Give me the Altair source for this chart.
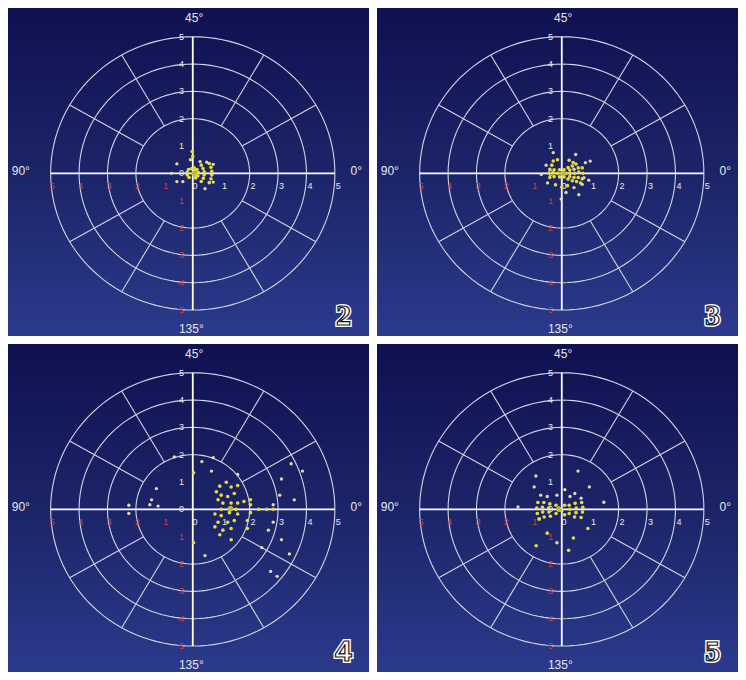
import altair as alt
import pandas as pd
import numpy as np

# ---------------- data ----------------
panel_names = ["2", "3", "4", "5"]
panel_fonts = ["Liberation Serif", "Liberation Serif", "Liberation Sans", "Liberation Serif"]

# panel "2"
p2_x = [0.03, 0.08, 0.10, 0.05, 0.15, 0.20, 0.18, 0.10, -0.05, -0.15, -0.20, -0.19, -0.13,
        0.30, 0.36, 0.40, 0.40, 0.37, 0.30, 0.58, 0.64, 0.67, 0.67, 0.64, 0.58,
        -0.08, 0.00, -0.02]
p2_y = [0.02, 0.10, -0.08, 0.20, 0.14, 0.03, -0.09, -0.17, 0.17, 0.14, 0.04, -0.06, -0.15,
        0.30, 0.18, 0.06, -0.06, -0.18, -0.30, 0.36, 0.22, 0.08, -0.06, -0.20, -0.34,
        0.50, 0.62, 0.80]
p2_px = [-0.56, 0.26, 0.49, 0.72, -0.56, -0.35, 0.43, 0.72, -0.75]
p2_py = [0.35, 0.43, 0.41, 0.33, -0.30, -0.30, -0.56, -0.32, 0.00]

# panel "3"
p3_x = [0.15, 0.08, -0.08, -0.15, -0.08, 0.08,
        0.30, 0.28, 0.22, 0.28, 0.22, -0.30, -0.27, -0.27,
        0.45, 0.43, 0.37, 0.43, 0.37, -0.42, -0.45, -0.42, -0.35,
        0.60, 0.58, 0.50, 0.58, 0.52, 0.75, 0.72, 0.72, 0.66,
        -0.30, -0.15, 0.26, 0.40, -0.22, 0.00, 0.20]
p3_y = [0.00, 0.13, 0.13, 0.00, -0.13, -0.13,
        0.00, 0.12, 0.21, -0.12, -0.21, 0.02, 0.13, -0.12,
        0.00, 0.15, 0.27, -0.15, -0.27, 0.15, 0.00, -0.15, 0.30,
        0.05, 0.20, 0.34, -0.15, -0.30, 0.00, 0.20, -0.20, -0.35,
        0.45, 0.50, 0.48, 0.40, -0.42, -0.50, -0.45]
p3_px = [0.49, 0.83, 1.00, -0.30, 0.78, 0.72, 0.43, 0.15, 0.60, -0.02, -0.72, -0.55, -0.50, 0.95]
p3_py = [0.69, 0.39, 0.45, 0.76, -0.16, -0.40, -0.52, -0.70, -0.78, -0.94, -0.04, 0.30, -0.35, -0.25]

# panel "4"
p4_x = [0.95, 1.18, 1.35, 1.58, 0.83, 1.00, 1.23, 1.46, 0.89, 1.06, 1.35, 1.58, 1.80, 2.03,
        1.00, 1.35, 1.52, 2.03, 2.32, 2.60, 2.83, 0.78, 1.00, 1.29, 1.58, 2.03,
        0.89, 1.23, 1.46, 1.92, 0.78, 1.06, 1.35, 1.92, 0.95, 1.35, 0.03, 0.03]
p4_y = [0.85, 0.99, 0.82, 0.87, 0.64, 0.52, 0.47, 0.58, 0.35, 0.23, 0.23, 0.23, 0.29, 0.35,
        0.00, 0.06, 0.00, 0.17, 0.00, 0.00, 0.00, -0.17, -0.23, -0.12, -0.17, -0.12,
        -0.47, -0.47, -0.41, -0.41, -0.64, -0.76, -0.70, -0.70, -0.93, -1.11, 1.34, -1.22]
p4_px = [0.32, 0.72, -0.65, 0.66, 1.58, -1.28, -1.45, -2.25, -2.25, -1.51, -1.22,
         0.43, 2.83, 2.66, 3.12, 3.40, 2.74, 2.97, 3.57, 3.46, 3.86, 3.12, 3.06, 2.83, 2.43]
p4_py = [1.75, 1.89, 1.92, 1.40, 1.28, 0.76, 0.35, 0.15, -0.15, 0.17, 0.12,
         -1.69, 0.17, -0.76, -1.11, -1.63, -2.27, -2.45, 0.35, 1.67, 1.40, 1.11, 0.52, -0.47, -1.40]

# panel "5"
p5_x = [-0.42, -0.46, -0.45, -0.40, -0.63, -0.68, -0.67, -0.62, -0.84, -0.88, -0.86, -0.80,
        0.26, 0.29, 0.26, 0.47, 0.51, 0.50, 0.45, 0.70, 0.74, 0.73, 0.68,
        -0.10, 0.00, -0.20, 0.10, -0.20, 0.10,
        -0.79, -0.51, -0.17, 0.41, 0.92, -0.90, 0.24]
p5_y = [0.20, 0.05, -0.10, -0.25, 0.25, 0.08, -0.10, -0.28, 0.25, 0.05, -0.15, -0.35,
        0.15, 0.00, -0.15, 0.22, 0.05, -0.12, -0.28, 0.25, 0.08, -0.10, -0.30,
        0.05, -0.05, 0.15, 0.15, -0.15, -0.20,
        -0.35, -0.87, -1.22, -1.05, -0.70, -1.33, -1.50]
p5_px = [0.57, 0.97, -0.91, -0.97, -1.54, 1.48, 0.11, 0.46, 0.68, -0.74, -0.51, -0.17, 0.29]
p5_py = [1.40, 0.82, 1.22, 0.82, 0.09, 0.26, 0.72, 0.58, 0.41, 0.52, 0.47, 0.52, 0.47]

centroid_x = [0.05, 0.05, 1.32, -0.10]
centroid_y = [0.00, 0.00, 0.02, 0.00]

ring_radii = [2, 3, 4, 5]
spoke_angles = [30, 60, 120, 150, 210, 240, 300, 330]
tick_values = [1, 2, 3, 4, 5]
angle_labels = ["45°", "90°", "0°", "135°"]

W, H = 361, 328
XD = [-6.5, 6.2]
YD = [-5.95, 6.05]

xs = alt.Scale(domain=XD, nice=False, zero=False)
ys = alt.Scale(domain=YD, nice=False, zero=False)

# grid geometry
circ_rows = []
for r in ring_radii:
    for i, a in enumerate(range(0, 361, 3)):
        t = np.deg2rad(a)
        circ_rows.append({"r": r, "i": i, "x": r * np.cos(t), "y": r * np.sin(t)})
circ_df = pd.DataFrame(circ_rows)

spoke_df = pd.DataFrame({
    "x": [2 * np.cos(np.deg2rad(a)) for a in spoke_angles],
    "y": [2 * np.sin(np.deg2rad(a)) for a in spoke_angles],
    "x2": [5 * np.cos(np.deg2rad(a)) for a in spoke_angles],
    "y2": [5 * np.sin(np.deg2rad(a)) for a in spoke_angles],
})
axis_df = pd.DataFrame({"x": [-5, 0], "y": [0, -5], "x2": [5, 0], "y2": [0, 5]})

white_lab = pd.DataFrame({
    "x": [t + 0.12 for t in tick_values] + [-0.4] * 5 + [0.08, -0.4],
    "y": [-0.45] * 5 + tick_values + [-0.45, 0.0],
    "t": [str(t) for t in tick_values] * 2 + ["0", "0"],
})
red_lab = pd.DataFrame({
    "x": [-t + 0.05 for t in tick_values] + [-0.4] * 5,
    "y": [-0.45] * 5 + [-t for t in tick_values],
    "t": [str(t) for t in tick_values] * 2,
})
ang_df = pd.DataFrame({"x": [0.05, -6.05, 5.75, -0.05], "y": [5.68, 0.08, 0.08, -5.7], "t": angle_labels})

bg_df = pd.DataFrame({"a": [0]})

grad = alt.Gradient(
    gradient="linear",
    stops=[alt.GradientStop(color="#0f1150", offset=0),
           alt.GradientStop(color="#1c2468", offset=0.5),
           alt.GradientStop(color="#2b3a8c", offset=1)],
    x1=0, x2=0, y1=0, y2=1,
)

yellow_sets = [(p2_x, p2_y), (p3_x, p3_y), (p4_x, p4_y), (p5_x, p5_y)]
pale_sets = [(p2_px, p2_py), (p3_px, p3_py), (p4_px, p4_py), (p5_px, p5_py)]


def panel(k):
    enc = dict(x=alt.X("x:Q", scale=xs, axis=None), y=alt.Y("y:Q", scale=ys, axis=None))
    bg = alt.Chart(bg_df).mark_rect(color=grad).encode(
        x=alt.value(0), x2=alt.value(W), y=alt.value(0), y2=alt.value(H))
    circles = alt.Chart(circ_df).mark_line(color="#d4d4e4", strokeWidth=1.1).encode(
        detail="r:N", order="i:Q", **enc)
    spokes = alt.Chart(spoke_df).mark_rule(color="#d4d4e4", strokeWidth=1.1).encode(
        x2="x2:Q", y2="y2:Q", **enc)
    axes = alt.Chart(axis_df).mark_rule(color="#ffffff", strokeWidth=1.8).encode(
        x2="x2:Q", y2="y2:Q", **enc)
    wl = alt.Chart(white_lab).mark_text(color="#e8e8f0", fontSize=9, font="Liberation Sans").encode(
        text="t:N", **enc)
    rl = alt.Chart(red_lab).mark_text(color="#d0402a", fontSize=9, font="Liberation Sans").encode(
        text="t:N", **enc)
    al = alt.Chart(ang_df).mark_text(color="#e6e6ee", fontSize=12, font="Liberation Sans").encode(
        text="t:N", **enc)
    pdf = pd.DataFrame({"x": pale_sets[k][0], "y": pale_sets[k][1]})
    pale = alt.Chart(pdf).mark_circle(color="#e2dca6", size=11, opacity=1).encode(**enc)
    ydf = pd.DataFrame({"x": yellow_sets[k][0], "y": yellow_sets[k][1]})
    yel = alt.Chart(ydf).mark_circle(color="#e8dc3c", size=13, opacity=1).encode(**enc)
    cdf = pd.DataFrame({"x": [centroid_x[k]], "y": [centroid_y[k]]})
    cen = alt.Chart(cdf).mark_circle(color="#b8c030", size=30, opacity=1).encode(**enc)
    ndf = pd.DataFrame({"x": [5.3], "y": [-5.2], "t": [panel_names[k]]})
    n1 = alt.Chart(ndf).mark_text(fontSize=30, font=panel_fonts[k], fontWeight="bold",
                                  color="#ffffff", stroke="#ffffff", strokeWidth=4,
                                  baseline="middle").encode(text="t:N", **enc)
    n2 = alt.Chart(ndf).mark_text(fontSize=30, font=panel_fonts[k], fontWeight="bold",
                                  color="#ffffff", stroke="#101020", strokeWidth=1.2,
                                  baseline="middle").encode(text="t:N", **enc)
    return alt.layer(bg, circles, spokes, axes, wl, rl, al, pale, yel, cen, n1, n2).properties(
        width=W, height=H)


row1 = alt.hconcat(panel(0), panel(1), spacing=8)
row2 = alt.hconcat(panel(2), panel(3), spacing=8)
chart = alt.vconcat(row1, row2, spacing=8).properties(padding=0, background="#ffffff").configure_view(
    stroke=None).configure_concat(spacing=8)

chart.save("out.html", embed_options={"renderer": "svg", "actions": False})
